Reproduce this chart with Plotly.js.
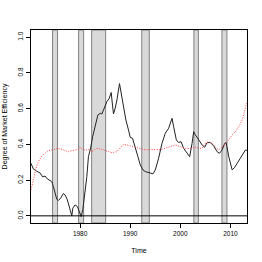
<!DOCTYPE html>
<html><head><meta charset="utf-8">
<script src="https://cdn.plot.ly/plotly-3.0.1.min.js"></script>
<style>html,body{margin:0;padding:0;background:#fff;}#chart{width:262px;height:262px;}</style>
</head><body><div id="chart"></div>
<script>
// Recession (shaded) periods
const recStart = [1974.5, 1979.7, 1982.3, 1992.3, 2002.7, 2008.3];
const recEnd   = [1975.5, 1980.7, 1985.1, 1993.8, 2003.6, 2009.3];

// Black series: degree of market efficiency
const effYears = [1970.2,1970.66,1971.34,1972.0,1972.54,1973.0,1973.46,1974.0,1974.34,1974.66,1975.0,1975.34,1975.66,1976.14,1976.66,1977.0,1977.46,1977.86,1978.14,1978.34,1978.54,1979.0,1979.46,1979.86,1980.2,1980.54,1981.0,1981.34,1981.66,1982.1,1982.5,1983.0,1983.54,1984.0,1984.34,1984.66,1985.0,1985.34,1985.8,1986.2,1986.46,1986.66,1987.0,1987.34,1987.86,1988.2,1988.66,1989.14,1989.66,1990.0,1990.46,1991.0,1991.54,1992.0,1992.54,1993.0,1993.66,1994.54,1995.0,1995.66,1996.34,1997.0,1997.66,1998.34,1998.66,1999.2,1999.66,2000.14,2000.66,2001.34,2001.86,2002.34,2002.66,2003.0,2003.46,2004.0,2004.34,2004.86,2005.34,2006.0,2006.66,2007.34,2007.8,2008.34,2008.86,2009.14,2009.4,2009.66,2010.34,2010.86,2011.34,2012.0,2012.46,2013.0,2013.34];
const effValues = [0.294,0.263,0.250,0.240,0.218,0.223,0.207,0.200,0.192,0.164,0.127,0.093,0.086,0.100,0.125,0.117,0.089,0.052,0.015,0.0,0.043,0.061,0.052,0.024,-0.004,0.034,0.140,0.220,0.331,0.380,0.443,0.510,0.564,0.574,0.570,0.592,0.620,0.639,0.657,0.690,0.620,0.570,0.602,0.648,0.740,0.685,0.611,0.536,0.480,0.439,0.434,0.387,0.331,0.285,0.257,0.248,0.242,0.235,0.257,0.322,0.406,0.462,0.490,0.546,0.499,0.425,0.410,0.415,0.378,0.350,0.331,0.406,0.471,0.453,0.434,0.415,0.397,0.384,0.410,0.410,0.391,0.359,0.350,0.369,0.406,0.410,0.369,0.331,0.257,0.272,0.294,0.322,0.346,0.369,0.365];

// Red dotted series
const redYears = [1970.2,1970.66,1971.2,1971.66,1972.34,1973.0,1973.66,1974.34,1975.0,1975.66,1976.34,1977.0,1977.66,1978.34,1979.0,1979.66,1980.0,1980.66,1981.34,1981.86,1982.34,1983.34,1984.34,1985.34,1986.34,1987.34,1988.0,1988.66,1989.34,1990.0,1990.66,1991.34,1992.34,1993.0,1994.0,1995.0,1996.0,1997.0,1998.0,1999.0,2000.0,2001.0,2002.0,2003.0,2003.66,2004.34,2005.0,2005.66,2006.34,2007.0,2007.66,2008.34,2009.0,2009.66,2010.34,2011.0,2011.66,2012.34,2012.86,2013.2];
const redValues = [0.145,0.201,0.266,0.303,0.335,0.350,0.365,0.369,0.372,0.378,0.372,0.365,0.359,0.365,0.369,0.372,0.384,0.369,0.369,0.372,0.359,0.378,0.372,0.365,0.354,0.359,0.378,0.400,0.397,0.392,0.388,0.382,0.372,0.369,0.372,0.369,0.369,0.378,0.387,0.397,0.387,0.378,0.378,0.384,0.378,0.378,0.406,0.415,0.406,0.384,0.369,0.384,0.406,0.425,0.453,0.471,0.499,0.536,0.592,0.630];

const xTicks = [1980, 1990, 2000, 2010];
const yTicks = [0, 0.2, 0.4, 0.6, 0.8, 1.0];
const yTickText = ['0.0','0.2','0.4','0.6','0.8','1.0'];

const shapes = recStart.map((s, i) => ({
  type: 'rect', xref: 'x', yref: 'paper', x0: s, x1: recEnd[i], y0: 0, y1: 1,
  fillcolor: '#d9d9d9', line: {color: '#808080', width: 1}, layer: 'below'
}));
shapes.push({type: 'line', xref: 'paper', yref: 'y', x0: 0, x1: 1, y0: 0, y1: 0,
  line: {color: '#000', width: 1}});

const traces = [
  {x: effYears, y: effValues, type: 'scatter', mode: 'lines',
   line: {color: '#222', width: 1}, hoverinfo: 'skip'},
  {x: redYears, y: redValues, type: 'scatter', mode: 'lines',
   line: {color: '#ff3b3b', width: 1, dash: '1px,1.5px'}, hoverinfo: 'skip'}
];

const font = {family: 'Liberation Sans, Arial, sans-serif', size: 6.5, color: '#000'};
const layout = {
  width: 262, height: 262,
  margin: {l: 31, r: 15, t: 30, b: 39},
  paper_bgcolor: '#fff', plot_bgcolor: '#fff',
  showlegend: false, font: font,
  shapes: shapes,
  xaxis: {range: [1970.2, 2013.3], tickvals: xTicks, ticktext: xTicks.map(String),
    ticks: 'outside', ticklen: 4, tickwidth: 1, tickcolor: '#000',
    showgrid: false, zeroline: false, showline: true, mirror: true, linecolor: '#000', linewidth: 1,
    tickfont: {size: 6.5, color: '#000', family: font.family},
    title: {text: 'Time', font: {size: 7, color: '#000', family: font.family}, standoff: 12}},
  yaxis: {range: [-0.04, 1.04], tickvals: yTicks, ticktext: yTickText, tickangle: -90,
    ticks: 'outside', ticklen: 4, tickwidth: 1, tickcolor: '#000',
    showgrid: false, zeroline: false, showline: true, mirror: true, linecolor: '#000', linewidth: 1,
    tickfont: {size: 6.5, color: '#000', family: font.family},
    title: {text: 'Degree of Market Efficiency', font: {size: 7, color: '#000', family: font.family}, standoff: 8}}
};
Plotly.newPlot('chart', traces, layout, {staticPlot: true, displayModeBar: false});
</script></body></html>
